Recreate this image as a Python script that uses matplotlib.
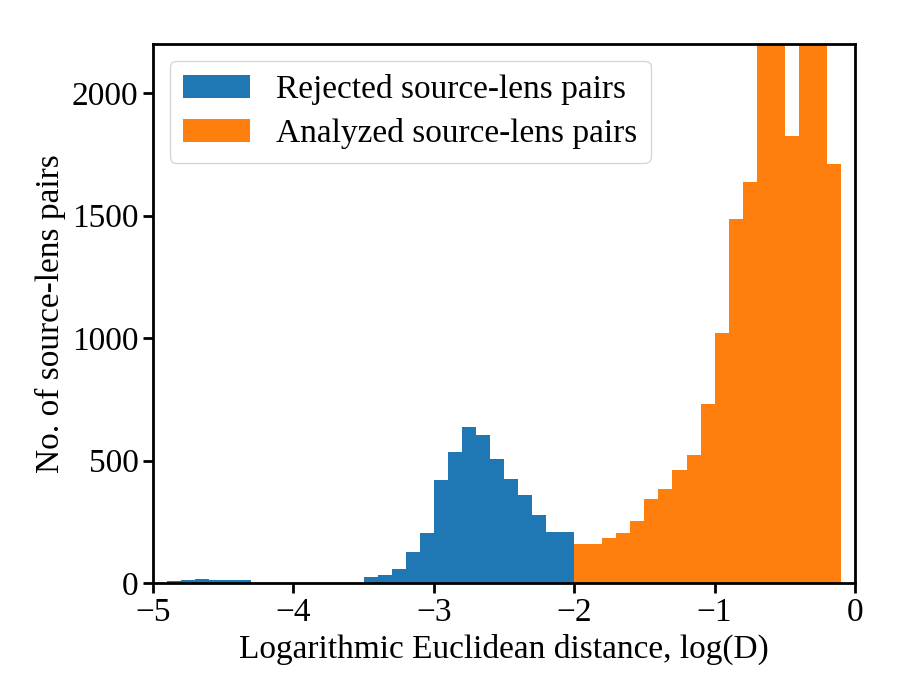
import numpy as np
import matplotlib
matplotlib.use("Agg")
from matplotlib import pyplot as plt

# bin edges of the log(D) histogram, width 0.1
bin_edges = np.round(np.arange(-5.0, -0.05, 0.1), 2)

# counts per bin
rejected_counts = [0, 7, 11, 15, 11, 11, 11, 0, 0, 0,
                   0, 0, 0, 0, 0, 23, 35, 56, 125, 203,
                   419, 537, 639, 603, 505, 423, 358, 276, 207, 207]
analyzed_counts = [160, 160, 186, 205, 254, 344, 384, 463, 521, 729,
                   1020, 1487, 1639, 2350, 2500, 1824, 2420, 2300, 1712]

rejected_left = bin_edges[:30]
analyzed_left = bin_edges[30:49]

plt.rcParams['font.family'] = ['Liberation Serif', 'DejaVu Serif']
plt.rcParams['font.size'] = 24

fig = plt.figure(figsize=(9, 7), dpi=100)
ax = fig.add_axes([0.17, 0.167, 0.78, 0.77])

ax.hist(rejected_left + 0.05, bins=bin_edges[:31], weights=rejected_counts,
        color='#1f77b4', label='Rejected source-lens pairs')
ax.hist(analyzed_left + 0.05, bins=np.append(analyzed_left, -0.1), weights=analyzed_counts,
        color='#ff7f0e', label='Analyzed source-lens pairs')

ax.set_xlim(-5, 0)
ax.set_ylim(0, 2200)
ax.set_xticks([-5, -4, -3, -2, -1, 0])
ax.set_yticks([0, 500, 1000, 1500, 2000])
ax.set_xlabel('Logarithmic Euclidean distance, log(D)', labelpad=4)
ax.set_ylabel('No. of source-lens pairs')

for s in ax.spines.values():
    s.set_linewidth(2)
ax.tick_params(width=2, length=7, labelsize=24)

ax.legend(loc='upper left', fontsize=24, handlelength=2.0, borderpad=0.4,
          labelspacing=0.4, borderaxespad=0.5)

plt.savefig('out.png', dpi=100)
